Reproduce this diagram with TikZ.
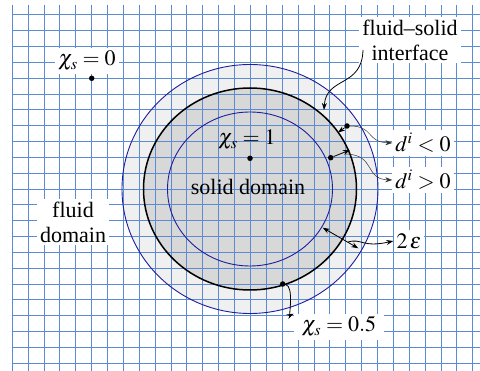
\documentclass[tikz,border=0pt]{standalone}
\usepackage{mathptmx}
\usepackage{fontspec}
\setmainfont{Liberation Serif}
\usetikzlibrary{arrows.meta}
\definecolor{gridblue}{RGB}{92,140,208}
\definecolor{ringblue}{RGB}{30,30,160}
\definecolor{bandgray}{RGB}{240,240,240}
\definecolor{coregray}{RGB}{216,216,216}

\begin{document}
\begin{tikzpicture}[x=1pt, y=-1pt, >={Stealth[length=7pt,width=5pt]},
    gridline/.style={draw=gridblue, line width=1pt},
    ring/.style={draw=ringblue, line width=0.9pt},
    dot/.style={circle, fill=black, inner sep=0pt, minimum size=5.5pt},
    lbl/.style={fill=white, inner sep=3pt, align=center, font=\fontsize{22}{25}\selectfont},
    plainlbl/.style={inner sep=1pt, font=\fontsize{22}{25}\selectfont},
    pointer/.style={->, line width=0.5pt, draw=black!80}]
    \useasboundingbox (0,0) rectangle (480,371);
    % Diffuse band and solid core
    \fill[bandgray] (250,189) ellipse [x radius=128, y radius=124.5];
    \fill[coregray] (250,189) ellipse [x radius=106.5, y radius=101];
    % Grid
    \foreach \i in {0,...,29}
        \draw[gridline] (12.3+\i*15.88,5) -- (12.3+\i*15.88,371);
    \foreach \j in {0,...,22}
        \draw[gridline] (12.3,15+\j*15.83) -- (480,15+\j*15.83);
    % Level sets
    \draw[ring] (250,189) ellipse [x radius=128, y radius=124.5];
    \draw[ring] (250,189) ellipse [x radius=82.5, y radius=77];
    \draw[line width=1.5pt] (250,189) ellipse [x radius=106.5, y radius=101];
    % Labels
    \node[lbl] (chizero) at (87,61) {$\chi_s = 0$};
    \node[dot] (pzero) at (91.7,78.3) {};
    \node[plainlbl] (chione) at (247,140) {$\chi_s = 1$};
    \node[dot] (pone) at (250,158.3) {};
    \node[plainlbl] (solid) at (248,187) {solid domain};
    \node[lbl] (fluid) at (73,222) {fluid\\domain};
    \node[lbl] (fsi) at (410,40) {fluid--solid\\interface};
    \node[lbl] (dneglbl) at (423,143) {$d^i < 0$};
    \node[lbl] (dposlbl) at (423,180) {$d^i > 0$};
    \node[lbl] (eps) at (409,241) {$2\,\varepsilon$};
    \node[lbl, inner xsep=8pt] (chihalf) at (339,327) {$\chi_s = 0.5$};
    % Interface arrow
    \coordinate (fsistart) at (363,50);
    \coordinate (fsitip) at (324,110);
    \draw[->, line width=0.8pt] (fsistart) .. controls (362,88) and (326,76) .. (fsitip);
    % Signed distance
    \node[dot] (dneg) at (347,126) {};
    \node[dot] (dpos) at (330.7,157.7) {};
    \coordinate (dnegtip) at (338,132.5);
    \coordinate (dpostip) at (350,150);
    \draw[->, line width=0.8pt] (dneg) -- (dnegtip);
    \draw[->, line width=0.8pt] (dpos) -- (dpostip);
    \draw[pointer] (dneg) .. controls (374,126) and (366,142) .. (dneglbl.west);
    \draw[pointer] (346,154) .. controls (376,155) and (364,179) .. (dposlbl.west);
    % Band width
    \coordinate (epsin) at (322.7,227.7);
    \coordinate (epsout) at (358.3,248.3);
    \draw[<->, line width=0.8pt] (epsin) -- (epsout);
    \draw[->, line width=0.8pt] (348,242) .. controls (362,238) and (362,248) .. (eps.west);
    % Half level
    \node[dot] (phalf) at (282.7,284) {};
    \draw[->, line width=0.8pt] (phalf) .. controls (294,286) and (289,316) .. (chihalf.north west);
\end{tikzpicture}
\end{document}
